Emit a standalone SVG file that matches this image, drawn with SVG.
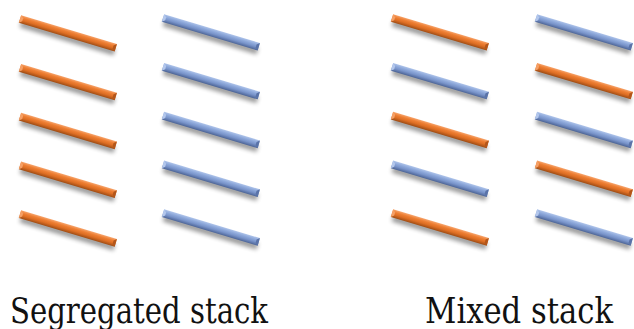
<svg xmlns="http://www.w3.org/2000/svg" xmlns:xlink="http://www.w3.org/1999/xlink" width="634" height="329" viewBox="0 0 634 329">
  <style>
    .label { font-family: "DejaVu Serif", serif; font-size: 35px; fill: #111; }
  </style>
  <defs>
    <filter id="soft" x="-20%" y="-200%" width="140%" height="500%">
      <feGaussianBlur stdDeviation="2"/>
    </filter>
    <linearGradient id="gO" x1="0" y1="-4" x2="0" y2="4" gradientUnits="userSpaceOnUse">
      <stop offset="0" stop-color="#F6A46C"/>
      <stop offset="0.3" stop-color="#EE7F33"/>
      <stop offset="0.6" stop-color="#DD6E24"/>
      <stop offset="1" stop-color="#9E4C14"/>
    </linearGradient>
    <linearGradient id="gB" x1="0" y1="-4" x2="0" y2="4" gradientUnits="userSpaceOnUse">
      <stop offset="0" stop-color="#AFC4EA"/>
      <stop offset="0.3" stop-color="#8EA9DB"/>
      <stop offset="0.6" stop-color="#7893C9"/>
      <stop offset="1" stop-color="#4C6496"/>
    </linearGradient>
    <!-- one bevelled bar, drawn along +x, centred on y=0 -->
    <g id="barO">
      <rect x="2" y="1.5" width="98" height="6.5" fill="#000" opacity="0.4" filter="url(#soft)"/>
      <rect x="0" y="-4" width="100" height="8" fill="url(#gO)"/>
      <polygon points="0,-4 2.8,-1.6 2.8,1.6 0,4" fill="#F5A066"/>
      <polygon points="100,-4 97.2,-1.6 97.2,1.6 100,4" fill="#B3561A"/>
    </g>
    <g id="barB">
      <rect x="2" y="1.5" width="98" height="6.5" fill="#000" opacity="0.4" filter="url(#soft)"/>
      <rect x="0" y="-4" width="100" height="8" fill="url(#gB)"/>
      <polygon points="0,-4 2.8,-1.6 2.8,1.6 0,4" fill="#B3C7EC"/>
      <polygon points="100,-4 97.2,-1.6 97.2,1.6 100,4" fill="#5A73A8"/>
    </g>
  </defs>

  <!-- segregated stack: orange column -->
  <g id="seg-orange">
    <use xlink:href="#barO" href="#barO" transform="translate(20,19) rotate(16.7)"/>
    <use xlink:href="#barO" href="#barO" transform="translate(20,67.8) rotate(16.7)"/>
    <use xlink:href="#barO" href="#barO" transform="translate(20,116.6) rotate(16.7)"/>
    <use xlink:href="#barO" href="#barO" transform="translate(20,165.4) rotate(16.7)"/>
    <use xlink:href="#barO" href="#barO" transform="translate(20,214.2) rotate(16.7)"/>
  </g>
  <!-- segregated stack: blue column -->
  <g id="seg-blue">
    <use xlink:href="#barB" href="#barB" transform="translate(163,18) rotate(16.7)"/>
    <use xlink:href="#barB" href="#barB" transform="translate(163,66.8) rotate(16.7)"/>
    <use xlink:href="#barB" href="#barB" transform="translate(163,115.6) rotate(16.7)"/>
    <use xlink:href="#barB" href="#barB" transform="translate(163,164.4) rotate(16.7)"/>
    <use xlink:href="#barB" href="#barB" transform="translate(163,213.2) rotate(16.7)"/>
  </g>
  <!-- mixed stack: left column -->
  <g id="mix-left">
    <use xlink:href="#barO" href="#barO" transform="translate(392,18) rotate(16.7)"/>
    <use xlink:href="#barB" href="#barB" transform="translate(392,66.8) rotate(16.7)"/>
    <use xlink:href="#barO" href="#barO" transform="translate(392,115.6) rotate(16.7)"/>
    <use xlink:href="#barB" href="#barB" transform="translate(392,164.4) rotate(16.7)"/>
    <use xlink:href="#barO" href="#barO" transform="translate(392,213.2) rotate(16.7)"/>
  </g>
  <!-- mixed stack: right column -->
  <g id="mix-right">
    <use xlink:href="#barB" href="#barB" transform="translate(536,18) rotate(16.7)"/>
    <use xlink:href="#barO" href="#barO" transform="translate(536,66.8) rotate(16.7)"/>
    <use xlink:href="#barB" href="#barB" transform="translate(536,115.6) rotate(16.7)"/>
    <use xlink:href="#barO" href="#barO" transform="translate(536,164.4) rotate(16.7)"/>
    <use xlink:href="#barB" href="#barB" transform="translate(536,213.2) rotate(16.7)"/>
  </g>

  <text class="label" x="10" y="323" textLength="258" lengthAdjust="spacingAndGlyphs">Segregated stack</text>
  <text class="label" x="425" y="323" textLength="188" lengthAdjust="spacingAndGlyphs">Mixed stack</text>
</svg>
